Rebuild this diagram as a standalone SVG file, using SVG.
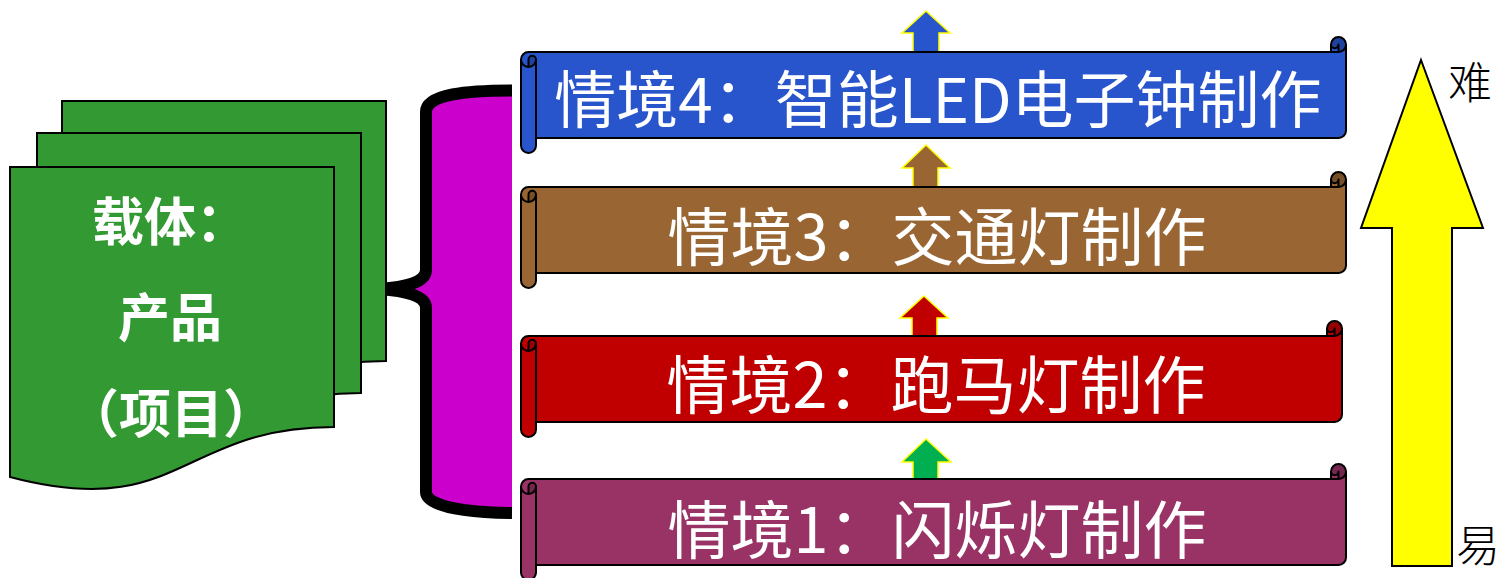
<svg xmlns="http://www.w3.org/2000/svg" width="1501" height="578" viewBox="0 0 1501 578">
<style>
.o{stroke:#000;stroke-width:2;stroke-linejoin:round}
.dk{fill:#000;fill-opacity:.22;stroke:none}
.dt{fill:none;stroke:#000;stroke-width:2;stroke-linejoin:round}
.st{font-family:"Noto Sans CJK SC","Noto Sans CJK JP",sans-serif;font-size:63px;fill:#fff;text-anchor:middle}
.pg{fill:#339933;stroke:#000;stroke-width:2}
.pt{font-family:"Noto Sans CJK SC","Noto Sans CJK JP",sans-serif;font-size:52px;font-weight:bold;fill:#fff;text-anchor:middle}
.sa{stroke:#FFFF00;stroke-width:1.5}
.lb{font-family:"Noto Sans CJK SC","Noto Sans CJK JP",sans-serif;font-size:44px;font-weight:300;fill:#000;text-anchor:middle}
</style>
<defs>
<g id="s825">
<path class="o" d="M0,22.5 A7.5,7.5 0 0 1 7.5,15 L810,15 L810,7.5 A7.5,7.5 0 0 1 825,7.5 L825,93.5 A7.5,7.5 0 0 1 817.5,101 L15,101 L15,108.5 A7.5,7.5 0 0 1 0,108.5 Z"/>
<path class="dk" d="M7.5,30 A7.5,7.5 0 0 0 15,22.5 A3.75,3.75 0 0 0 7.5,22.5 Z M817.5,15 A7.5,7.5 0 1 0 810,7.5 A3.75,3.75 0 0 0 817.5,7.5 Z"/>
<path class="dt" d="M810,15 L817.5,15 A7.5,7.5 0 0 0 825,7.5 M817.5,15 L817.5,7.5 A3.75,3.75 0 0 1 810,7.5 M7.5,30 L7.5,22.5 A3.75,3.75 0 0 1 15,22.5 A7.5,7.5 0 0 1 0,22.5 M15,22.5 L15,101"/>
</g>
<g id="s821">
<path class="o" d="M0,22.5 A7.5,7.5 0 0 1 7.5,15 L806,15 L806,7.5 A7.5,7.5 0 0 1 821,7.5 L821,93.5 A7.5,7.5 0 0 1 813.5,101 L15,101 L15,108.5 A7.5,7.5 0 0 1 0,108.5 Z"/>
<path class="dk" d="M7.5,30 A7.5,7.5 0 0 0 15,22.5 A3.75,3.75 0 0 0 7.5,22.5 Z M813.5,15 A7.5,7.5 0 1 0 806,7.5 A3.75,3.75 0 0 0 813.5,7.5 Z"/>
<path class="dt" d="M806,15 L813.5,15 A7.5,7.5 0 0 0 821,7.5 M813.5,15 L813.5,7.5 A3.75,3.75 0 0 1 806,7.5 M7.5,30 L7.5,22.5 A3.75,3.75 0 0 1 15,22.5 A7.5,7.5 0 0 1 0,22.5 M15,22.5 L15,101"/>
</g>
<path id="page" class="pg" d="M10,167 H334 V427 C180,427 180,522 10,477 Z"/>
</defs>

<g id="brace">
<path d="M512,90.5 C468,90.5 426,94 426,112 L426,270 C426,283 404,287 380,289 C404,291 426,295 426,308 L426,492 C426,507 466,512.5 512,513" fill="#CC00CC" stroke="#000" stroke-width="12" stroke-linejoin="round"/>
</g>

<g id="carrier">
<use href="#page" transform="translate(52,-66)"/>
<use href="#page" transform="translate(27,-34)"/>
<use href="#page"/>
<text class="pt" x="170" y="241">载体：</text>
<text class="pt" x="170" y="337">产品</text>
<text class="pt" x="171" y="433">（项目）</text>
</g>

<g id="connectors">
<path class="sa" fill="#2955CC" d="M926,11 L950,33 L939,33 L939,55 L913,55 L913,33 L902,33 Z"/>
<path class="sa" fill="#996633" d="M926,145 L950,168 L938,168 L938,190 L913,190 L913,168 L902,168 Z"/>
<path class="sa" fill="#C00000" d="M924,296 L948,318 L937,318 L937,338 L912,338 L912,318 L900,318 Z"/>
<path class="sa" fill="#00B050" d="M926,439 L951,462 L938,462 L938,481 L913,481 L913,462 L902,462 Z"/>
<path fill="#FFFF00" stroke="#000" stroke-width="2" stroke-linejoin="miter" d="M1421,60 L1483,228 L1452,228 L1452,566 L1392,566 L1392,228 L1361,228 Z"/>
</g>

<g id="scene4">
<use href="#s825" x="521" y="37" fill="#2955CC"/>
<text class="st" x="938" y="123" style="font-size:62px">情境4：智能LED电子钟制作</text>
</g>
<g id="scene3">
<use href="#s825" x="521" y="172" fill="#996633"/>
<text class="st" x="937" y="260">情境3：交通灯制作</text>
</g>
<g id="scene2">
<use href="#s821" x="521" y="321" fill="#C00000"/>
<text class="st" x="936" y="408">情境2：跑马灯制作</text>
</g>
<g id="scene1">
<use href="#s825" x="521" y="464" fill="#993366"/>
<text class="st" x="937" y="553">情境1：闪烁灯制作</text>
</g>

<g id="labels">
<text class="lb" x="1470" y="99">难</text>
<text class="lb" x="1478" y="562">易</text>
</g>
</svg>
